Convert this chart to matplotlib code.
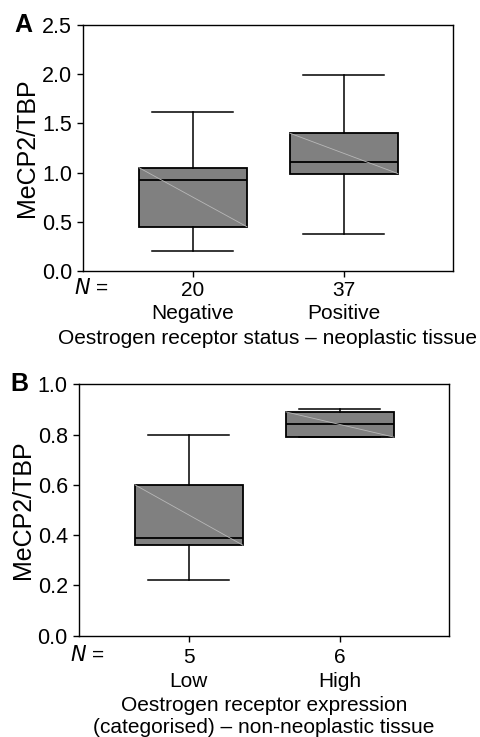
import matplotlib
matplotlib.use("Agg")
import matplotlib.pyplot as plt

plt.rcParams['font.family'] = ['Liberation Sans', 'DejaVu Sans']

# Paneel A: oestrogeenreceptor status (neoplastisch weefsel)
a_groepen = ['Negative', 'Positive']
a_n = [20, 37]
a_q1 = [0.45, 0.99]
a_med = [0.92, 1.11]
a_q3 = [1.05, 1.40]
a_wlo = [0.20, 0.38]
a_whi = [1.62, 1.99]

# Paneel B: oestrogeenreceptor expressie (niet-neoplastisch weefsel)
b_groepen = ['Low', 'High']
b_n = [5, 6]
b_q1 = [0.36, 0.79]
b_med = [0.39, 0.84]
b_q3 = [0.60, 0.89]
b_wlo = [0.22, 0.79]
b_whi = [0.80, 0.90]


def teken_paneel(ax, groepen, n, q1, med, q3, wlo, whi, ymax, yticks, xlabel, letter, xpad):
    stats = []
    for i in range(len(groepen)):
        stats.append(dict(q1=q1[i], med=med[i], q3=q3[i], whislo=wlo[i], whishi=whi[i], fliers=[]))
    pos = [1, 2]
    breedte = 0.715
    ax.bxp(stats, positions=pos, widths=breedte, patch_artist=True, showfliers=False,
           boxprops=dict(facecolor='#808080', edgecolor='black', linewidth=1.3),
           medianprops=dict(color='black', linewidth=1.3),
           whiskerprops=dict(color='black', linewidth=1.1),
           capprops=dict(color='black', linewidth=1.1),
           capwidths=breedte * 0.75)
    # lichte diagonaal in de box (zoals in het origineel)
    for p, lo, hi in zip(pos, q1, q3):
        ax.plot([p - breedte / 2, p + breedte / 2], [hi, lo], color='#b8b8b8', linewidth=0.6, zorder=5)

    ax.set_xlim(0.272, 2.722)
    ax.set_ylim(0, ymax)
    ax.set_yticks(yticks)
    ax.set_yticklabels([f'{t:.1f}' for t in yticks])
    ax.set_xticks(pos)
    ax.set_xticklabels([f'{k}\n{g}' for k, g in zip(n, groepen)], linespacing=1.3)
    ax.tick_params(axis='y', labelsize=15.5, direction='out', length=4, width=1, pad=4)
    ax.tick_params(axis='x', labelsize=15, direction='out', length=4, width=1, pad=xpad)
    for s in ax.spines.values():
        s.set_linewidth(1)
    ax.set_ylabel('MeCP2/TBP', fontsize=18, labelpad=2)
    ax.set_xlabel(xlabel, fontsize=15, labelpad=4, linespacing=1.2)
    ax.text(-0.025, -0.03 - (xpad - 3) / 250, r'$N$ =', transform=ax.transAxes, fontsize=15, ha='left', va='top')
    ax.text(-0.185, 1.0, letter, transform=ax.transAxes, fontsize=18, fontweight='bold', ha='left', va='center')


fig = plt.figure(figsize=(4.81, 7.37), dpi=100)
ax1 = fig.add_axes([0.1726, 0.6323, 0.769, 0.3338])
ax2 = fig.add_axes([0.1642, 0.1375, 0.769, 0.3411])

teken_paneel(ax1, a_groepen, a_n, a_q1, a_med, a_q3, a_wlo, a_whi, 2.5,
             [0.0, 0.5, 1.0, 1.5, 2.0, 2.5],
             'Oestrogen receptor status \u2013 neoplastic tissue', 'A', 3)
teken_paneel(ax2, b_groepen, b_n, b_q1, b_med, b_q3, b_wlo, b_whi, 1.0,
             [0.0, 0.2, 0.4, 0.6, 0.8, 1.0],
             'Oestrogen receptor expression\n(categorised) \u2013 non-neoplastic tissue', 'B', 5)

fig.savefig('out.png', dpi=100)
